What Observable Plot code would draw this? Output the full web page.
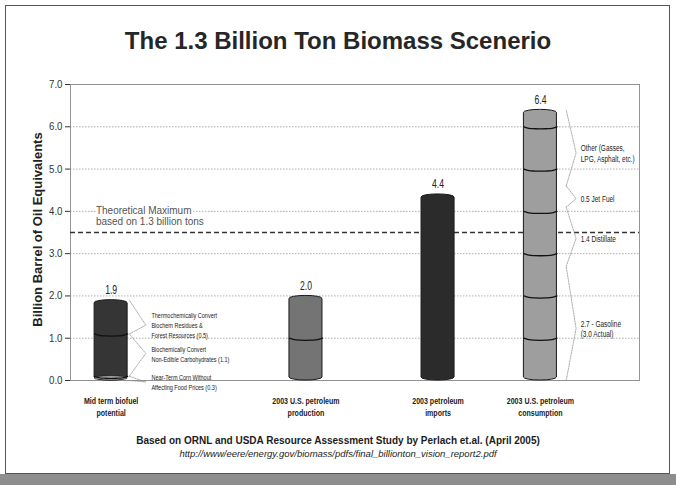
<!DOCTYPE html>
<html><head><meta charset="utf-8">
<script src="https://cdn.jsdelivr.net/npm/d3@7"></script>
<script src="https://cdn.jsdelivr.net/npm/@observablehq/plot@0.6"></script>
<style>
body{margin:0;background:#fff;width:676px;height:485px;position:relative;overflow:hidden;font-family:"Liberation Sans",Arial,sans-serif;}
#frame{position:absolute;left:5px;top:5px;width:663px;height:467px;border:1px solid #555;}
#title{position:absolute;left:0;top:27px;width:676px;text-align:center;font-weight:bold;font-size:24px;line-height:28px;color:#262626;}
#chart{position:absolute;left:0;top:62px;}
#cap1{position:absolute;left:0;top:435px;width:676px;text-align:center;font-weight:bold;font-size:10px;color:#1c1c1c;}
#cap2{position:absolute;left:0;top:448px;width:676px;text-align:center;font-style:italic;font-size:9.5px;color:#1c1c1c;}
#band{position:absolute;left:0;top:474px;width:676px;height:11px;background:#8e8e8e;}
</style></head>
<body>
<div id="frame"></div>
<div id="title">The 1.3 Billion Ton Biomass Scenerio</div>
<div id="chart"></div>
<div id="cap1">Based on ORNL and USDA Resource Assessment Study by Perlach et.al. (April 2005)</div>
<div id="cap2">http://www/eere/energy.gov/biomass/pdfs/final_billionton_vision_report2.pdf</div>
<div id="band"></div>
<script>
// ---- data ----
const categories = ["Mid term biofuel potential", "2003 U.S. petroleum production", "2003 petroleum imports", "2003 U.S. petroleum consumption"];
const categoryLabels = ["Mid term biofuel\npotential", "2003 U.S. petroleum\nproduction", "2003 petroleum\nimports", "2003 U.S. petroleum\nconsumption"];
const totals = [1.9, 2.0, 4.4, 6.4];
const totalLabels = ["1.9", "2.0", "4.4", "6.4"];
// drum segments as drawn, bottom to top
const biofuelSegments = [0.1, 1.0, 0.8];
const productionSegments = [1.0, 1.0];
const importsSegments = [4.4];
const consumptionSegments = [1, 1, 1, 1, 1, 1, 0.4];
// consumption breakdown (gasoline, distillate, jet fuel, other)
const consumptionBreakdown = [2.7, 1.4, 0.5, 1.8];
const yTicks = [0, 1, 2, 3, 4, 5, 6, 7];
const theoreticalMax = 3.5;
const theoreticalText = "Theoretical Maximum\nbased on 1.3 billion tons";
const biofuelNotes = ["Thermochemically Convert\nBiochem Residues &\nForest Resources (0.5)", "Biochemically Convert\nNon-Edible Carbohydrates (1.1)", "Near-Term Corn Without\nAffecting Food Prices (0.3)"];
const biofuelNoteY = [1.31, 0.64, -0.035];
const consumptionNotes = ["Other (Gasses,\nLPG, Asphalt, etc.)", "0.5 Jet Fuel", "1.4 Distillate", "2.7 - Gasoline\n(3.0 Actual)"];
const consumptionNoteY = [5.38, 4.30, 3.36, 1.23];
const yLabel = "Billion Barrel of Oil Equivalents";

// ---- layout (slot positions along x) ----
const slot = [0, 5.9, 9.9, 13];
const barFill = ["#353535", "#747474", "#2b2b2b", "#9e9e9e"];
const segs = [biofuelSegments, productionSegments, importsSegments, consumptionSegments];
const bars = categories.map((c, i) => ({i, c, total: d3.sum(segs[i])}));
// separators drawn as the front arc of the drum rims
const sepPts = [];
segs.forEach((s, i) => {
  let acc = 0;
  s.slice(0, -1).forEach((v, k) => {
    acc += v;
    [-0.5, -0.35, -0.2, 0, 0.2, 0.35, 0.5].forEach(t => {
      sepPts.push({g: i * 10 + k, x: slot[i] + t, y: acc - 0.05 * Math.sqrt(Math.max(0, 1 - 4 * t * t))});
    });
  });
});
const narrowFam = "'NarrowX','Liberation Sans',Arial,sans-serif";
const regularFam = "'Liberation Sans',Arial,sans-serif";

// brackets
function bracketPath(i, bounds, apexes, xIn, xOut) {
  const pts = [];
  bounds.forEach((b, k) => {
    pts.push({g: i * 10 + k, x: slot[i] + xIn, y: b[0]});
    pts.push({g: i * 10 + k, x: slot[i] + xOut, y: apexes[k]});
    pts.push({g: i * 10 + k, x: slot[i] + xIn, y: b[1]});
  });
  return pts;
}
let acc1 = 0;
const b1 = biofuelSegments.map(v => [acc1, (acc1 += v)]).reverse();
let acc4 = 0;
const b4 = consumptionBreakdown.map(v => [acc4, (acc4 += v)]).reverse();
const brackets = bracketPath(0, b1, biofuelNoteY, 0.55, 1.05).concat(bracketPath(3, b4, consumptionNoteY, 0.78, 1.08));

const chart = Plot.plot({
  width: 676, height: 363,
  marginLeft: 70, marginRight: 37, marginTop: 22, marginBottom: 45,
  style: {fontFamily: regularFam, fontSize: "11px", color: "#333", background: "transparent"},
  x: {domain: [-1.23, 16.0], axis: null},
  y: {domain: [0, 7], ticks: yTicks, tickFormat: d => d.toFixed(1), tickSize: 5, tickPadding: 3, label: null},
  marks: [
    Plot.ruleY(yTicks, {stroke: "#9a9a9a", strokeDasharray: "1.5,1.5", strokeWidth: 0.8}),
    Plot.frame({stroke: "#8a8a8a", strokeWidth: 0.9}),
    Plot.text([theoreticalText], {x: () => -0.46, y: () => 3.89, text: d => d, textAnchor: "start", fontFamily: regularFam, fontSize: 10, fill: "#555", lineHeight: 1.1, stroke: "white", strokeWidth: 4, paintOrder: "stroke"}),
    Plot.ruleY([theoreticalMax], {stroke: "#333", strokeDasharray: "5,3", strokeWidth: 1.4}),
    Plot.line(brackets, {x: "x", y: "y", z: "g", stroke: "#8a8a8a", strokeWidth: 0.7, strokeDasharray: "1.5,1.2"}),
    Plot.rect(bars, {x1: d => slot[d.i] - 0.5, x2: d => slot[d.i] + 0.5, y1: 0, y2: "total", fill: d => barFill[d.i], stroke: "#1a1a1a", strokeWidth: 1, rx: 16, ry: 3}),
    Plot.rect([0], {x1: () => slot[0] - 0.5, x2: () => slot[0] + 0.5, y1: 0, y2: () => biofuelSegments[0], fill: "#bdbdbd", stroke: "#1a1a1a", strokeWidth: 0.8, rx: 16, ry: 2}),
    Plot.line(sepPts, {x: "x", y: "y", z: "g", curve: "natural", stroke: "#111", strokeWidth: 1.3}),
    Plot.text(totals, {x: (d, i) => slot[i], y: d => d, text: (d, i) => totalLabels[i], dy: -10, fontFamily: narrowFam, fontSize: 12, fill: "#222"}),
    Plot.text(categoryLabels, {x: (d, i) => slot[i], y: () => 0, text: d => d, dy: 15, lineAnchor: "top", fontFamily: narrowFam, fontWeight: "bold", fontSize: 9.8, fill: "#222", lineHeight: 1.22}),
    Plot.text(biofuelNotes, {x: () => slot[0] + 1.22, y: (d, i) => biofuelNoteY[i], text: d => d, textAnchor: "start", fontFamily: narrowFam, fontSize: 7.7, fill: "#222", lineHeight: 1.3}),
    Plot.text(consumptionNotes, {x: () => slot[3] + 1.22, y: (d, i) => consumptionNoteY[i], text: d => d, textAnchor: "start", fontFamily: narrowFam, fontSize: 9, fill: "#222", lineHeight: 1.22}),
    Plot.text([yLabel], {frameAnchor: "left", text: d => d, textAnchor: "middle", rotate: -90, dx: -33, dy: -3, fontFamily: regularFam, fontWeight: "bold", fontSize: 13, fill: "#222"})
  ]
});
// compress the condensed labels horizontally
const squeeze = (sel, k) => chart.querySelectorAll(sel).forEach(t => {
  const tr = t.getAttribute("transform") || "";
  t.setAttribute("transform", tr + ` scale(${k},1)`);
});
squeeze('[font-family*="NarrowX"] text', 0.72);
squeeze('[aria-label="y-axis tick label"] text', 0.88);
document.getElementById("chart").appendChild(chart);
</script>
</body></html>
